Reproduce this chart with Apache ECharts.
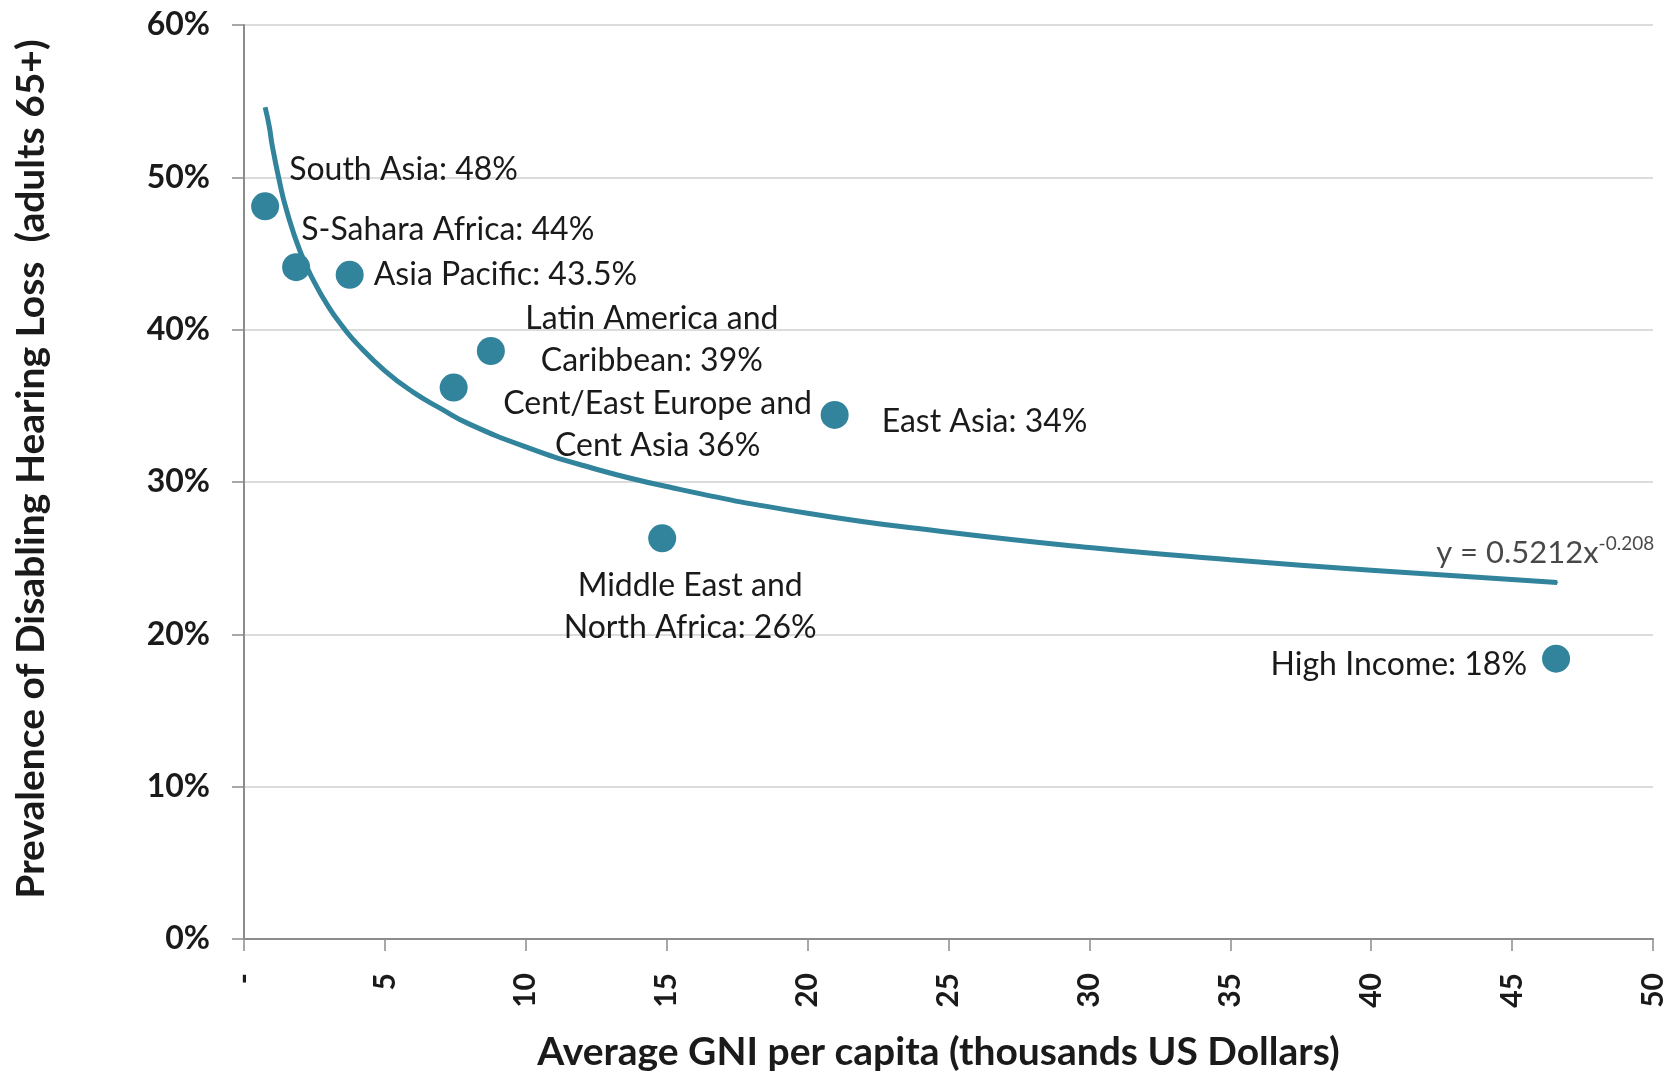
<!DOCTYPE html>
<html><head><meta charset="utf-8">
<script src="https://cdn.jsdelivr.net/npm/echarts@6/dist/echarts.min.js"></script>
<style>html,body{margin:0;padding:0;background:#fff}#c{width:1669px;height:1078px}</style>
</head><body><div id="c"></div>
<script>
// ---- data ----
const regions = ['South Asia','S-Sahara Africa','Asia Pacific','Latin America and Caribbean','Cent/East Europe and Cent Asia','East Asia','Middle East and North Africa','High Income'];
const gniThousands = [0.75, 1.85, 3.75, 8.76, 7.44, 20.96, 14.84, 46.56];
const prevalencePct = [48.1, 44.1, 43.6, 38.6, 36.2, 34.4, 26.3, 18.4];
const pointLabels = ['South Asia: 48%','S-Sahara Africa: 44%','Asia Pacific: 43.5%','Latin America and\nCaribbean: 39%','Cent/East Europe and\nCent Asia 36%','East Asia: 34%','Middle East and\nNorth Africa: 26%','High Income: 18%'];
// trend line, points
const trendX = [0.75, 0.9, 1, 1.25, 1.5, 2, 2.5, 3, 3.5, 4, 5, 6, 7, 8, 10, 12, 15, 20, 25, 30, 35, 40, 46.6];
const trendY = [54.6, 53.3, 52.1, 49.8, 47.9, 45.1, 43.1, 41.5, 40.2, 39.1, 37.3, 35.9, 34.8, 33.8, 32.3, 31.1, 29.7, 27.95, 26.7, 25.7, 24.9, 24.2, 23.4];
const trendLabel = 'y = 0.5212x';
const trendExponent = '-0.208';
const xTickLabels = ['-','5','10','15','20','25','30','35','40','45','50'];
const yTickLabels = ['0%','10%','20%','30%','40%','50%','60%'];

// ---- label placement (style only) ----
const labelPlace = [
  {offset:[24,-37], align:'left'},
  {offset:[5,-38], align:'left'},
  {offset:[24,0], align:'left'},
  {offset:[161,-11], align:'center'},
  {offset:[204,37], align:'center'},
  {offset:[47,7], align:'left'},
  {offset:[28,68], align:'center'},
  {offset:[-29,6], align:'right'}
];

const teal = '#31849b';
const txt = '#1a1a1a';
const fontFam = 'Lato, "Open Sans", sans-serif';

const scatterData = regions.map((r,i)=>({
  name: r,
  value: [gniThousands[i], prevalencePct[i]],
  label: {
    show: true,
    formatter: pointLabels[i],
    position: 'inside',
    offset: labelPlace[i].offset,
    align: labelPlace[i].align,
    verticalAlign: 'middle',
    color: txt,
    fontFamily: fontFam,
    fontSize: 32,
    lineHeight: 42
  }
}));

const trendData = trendX.map((x,i)=>[x, trendY[i]]);
const trendEnd = trendData[trendData.length-1];

const chart = echarts.init(document.getElementById('c'), null, {renderer:'canvas'});
chart.setOption({
  backgroundColor: '#fff',
  animation: false,
  grid: {left: 244, right: 16, top: 25, bottom: 139, containLabel: false, outerBoundsMode: 'none'},
  xAxis: {
    type: 'value', min: 0, max: 50, interval: 5,
    name: 'Average GNI per capita (thousands US Dollars)',
    nameLocation: 'middle', nameGap: 94,
    nameTextStyle: {fontFamily: fontFam, fontWeight: 'bold', fontSize: 39, color: txt, padding: [0, 20, 0, 0]},
    axisLine: {show: true, lineStyle: {color: '#8c8c8c', width: 2}},
    axisTick: {show: true, length: 12, lineStyle: {color: '#8c8c8c', width: 1.5}},
    splitLine: {show: false},
    axisLabel: {
      rotate: 90, margin: 34, align: 'right', verticalAlign: 'middle',
      color: txt, fontFamily: fontFam, fontWeight: 'bold', fontSize: 30,
      formatter: (v)=> xTickLabels[Math.round(v/5)]
    }
  },
  yAxis: {
    type: 'value', min: 0, max: 60, interval: 10,
    name: 'Prevalence of Disabling Hearing Loss  (adults 65+)',
    nameLocation: 'middle', nameGap: 193, nameRotate: 90,
    nameTextStyle: {fontFamily: fontFam, fontWeight: 'bold', fontSize: 39, color: txt, padding: [0, 0, 0, 26]},
    axisLine: {show: true, lineStyle: {color: '#8c8c8c', width: 2}},
    axisTick: {show: true, inside: false, length: 12, lineStyle: {color: '#8c8c8c', width: 1.5}},
    splitLine: {show: true, lineStyle: {color: '#dcdcdc', width: 2}},
    axisLabel: {
      margin: 34, color: txt, fontFamily: fontFam, fontWeight: 'bold', fontSize: 32,
      formatter: (v)=> yTickLabels[Math.round(v/10)]
    }
  },
  series: [
    {
      type: 'line', data: trendData, smooth: 0.5, showSymbol: false, symbol: 'none',
      lineStyle: {color: teal, width: 5}, z: 2, silent: true
    },
    {
      type: 'scatter', data: scatterData, symbol: 'circle', symbolSize: 28,
      itemStyle: {color: teal, opacity: 1}, z: 3
    },
    {
      type: 'scatter', data: [{value: trendEnd}], symbol: 'circle', symbolSize: 2,
      itemStyle: {color: teal}, z: 1, silent: true,
      label: {
        show: true, position: 'top', distance: 10, offset: [-12, 0],
        formatter: '{a|' + trendLabel + '}{b|' + trendExponent + '}',
        rich: {
          a: {fontFamily: fontFam, fontSize: 31, color: txt},
          b: {fontFamily: fontFam, fontSize: 19, color: txt, padding: [0,0,18,0]}
        }
      }
    }
  ]
});
</script></body></html>
